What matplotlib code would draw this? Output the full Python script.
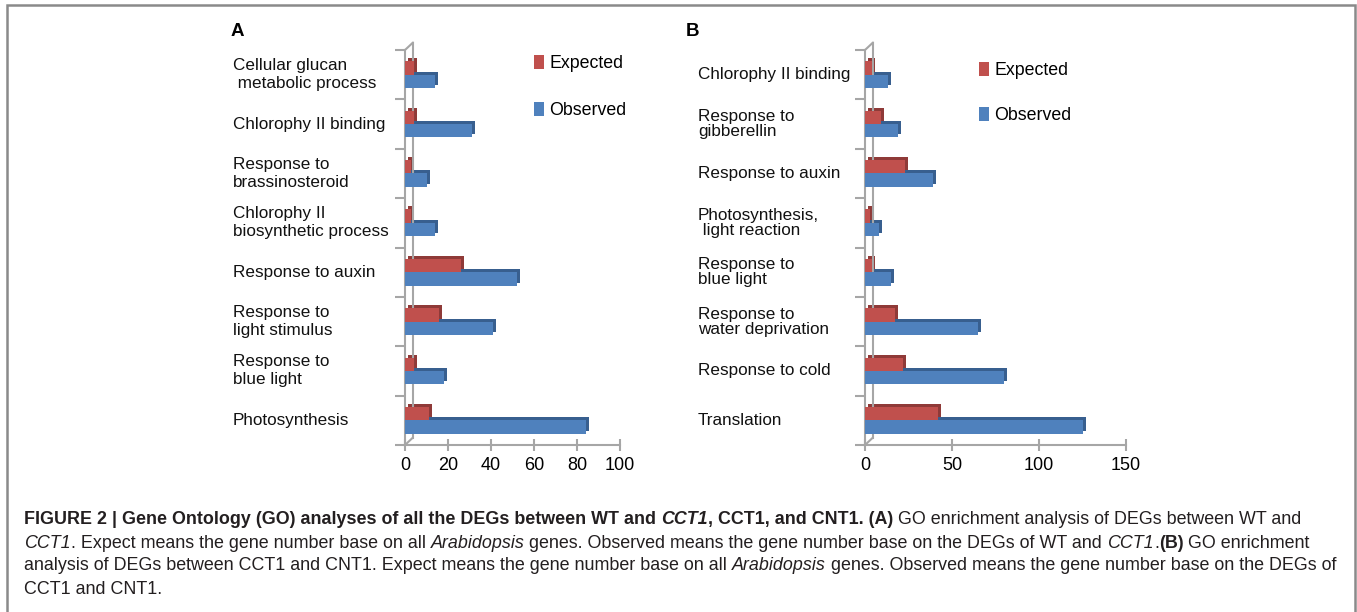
import numpy as np
import matplotlib
matplotlib.use("Agg")
import matplotlib.pyplot as plt
from matplotlib.transforms import ScaledTranslation, blended_transform_factory
from matplotlib.patches import Rectangle
from matplotlib.lines import Line2D
from matplotlib import font_manager

plt.rcParams['font.family'] = ['Liberation Sans', 'DejaVu Sans']

# panel A (bottom to top)
cats_a = ["Photosynthesis", "Response to\nblue light", "Response to\nlight stimulus",
          "Response to auxin", "Chlorophy II\nbiosynthetic process",
          "Response to\nbrassinosteroid", "Chlorophy II binding",
          "Cellular glucan\n metabolic process"]
expected_a = [11, 4, 16, 26, 3, 3, 4, 4]
observed_a = [84, 18, 41, 52, 14, 10, 31, 14]
xticks_a = [0, 20, 40, 60, 80, 100]

# panel B (bottom to top)
cats_b = ["Translation", "Response to cold", "Response to\nwater deprivation",
          "Response to\nblue light", "Photosynthesis,\n light reaction",
          "Response to auxin", "Response to\ngibberellin", "Chlorophy II binding"]
expected_b = [42, 22, 17, 4, 3, 23, 9, 4]
observed_b = [125, 80, 65, 15, 8, 39, 19, 13]
xticks_b = [0, 50, 100, 150]

RED, RED_D = '#c0504d', '#8f3a38'
BLUE, BLUE_D = '#4f81bd', '#385f8f'
GRAY = '#a6a6a6'

W, H = 1357, 612
fig = plt.figure(figsize=(W / 100, H / 100), dpi=100)


def px(x, y):
    return x / W, 1 - y / H


def panel(left, width, cats, expected, observed, xticks, label_x, linesp, letter, letter_x, leg_xy, leg_sp):
    ax = fig.add_axes([left / W, 1 - 445 / H, width / W, 395 / H])
    ax.patch.set_alpha(0)
    y = np.arange(len(cats))
    h = 0.27
    depth = ScaledTranslation(0.03, 0.03, fig.dpi_scale_trans)
    for vals, off, face, side, name in [(expected, h / 2, RED, RED_D, 'Expected'),
                                        (observed, -h / 2, BLUE, BLUE_D, 'Observed')]:
        back = ax.barh(y + off, vals, height=h, color=side, zorder=2)
        for p in back:
            p.set_transform(ax.transData + depth)
        ax.barh(y + off, vals, height=h, color=face, zorder=3, label=name)

    ax.set_xlim(xticks[0], xticks[-1])
    ax.set_ylim(-0.5, len(cats) - 0.5)
    ax.set_xticks(xticks)
    ax.set_yticks(np.arange(-0.5, len(cats)))
    ax.set_yticklabels([])
    for s in ['top', 'right']:
        ax.spines[s].set_visible(False)
    for s in ['left', 'bottom']:
        ax.spines[s].set_color(GRAY)
        ax.spines[s].set_linewidth(1.5)
    ax.tick_params(axis='y', length=7, width=1.5, color=GRAY)
    ax.tick_params(axis='x', direction='inout', length=9, width=1.5, color=GRAY,
                   labelsize=13, pad=4)

    # 3d back wall
    wall = ax.transAxes + ScaledTranslation(0.08, 0.075, fig.dpi_scale_trans)
    ax.add_line(Line2D([0, 0], [0, 1], transform=wall, color=GRAY, lw=1.5, clip_on=False))
    for yy in [0, 1]:
        ax.annotate('', xy=(0, yy), xycoords='axes fraction', xytext=(8, 7.5),
                    textcoords='offset pixels',
                    arrowprops=dict(arrowstyle='-', color=GRAY, lw=1.5, shrinkA=0, shrinkB=0))

    tr = blended_transform_factory(fig.transFigure, ax.transData)
    for yi, c in zip(y, cats):
        fig.text(label_x / W, yi, c, transform=tr, ha='left', va='center',
                 fontsize=12.3, linespacing=linesp, color='#111111')

    fig.text(*px(letter_x, 32), letter, fontsize=13.5, fontweight='bold', va='center')
    ax.legend(loc='upper left', bbox_to_anchor=px(*leg_xy), bbox_transform=fig.transFigure,
              frameon=False, fontsize=12.8, handlelength=0.55, handleheight=0.8,
              handletextpad=0.3, labelspacing=leg_sp, borderpad=0, borderaxespad=0)
    return ax


panel(405, 215, cats_a, expected_a, observed_a, xticks_a, 233, 1.25, 'A', 231, (534, 55), 1.7)
panel(865, 261, cats_b, expected_b, observed_b, xticks_b, 698, 1.0, 'B', 686, (979, 62), 1.6)

# frame
fig.patches.append(Rectangle((7 / W, -0.1), (1355 - 7) / W, 1.1 - 5 / H, fill=False,
                             edgecolor='#8a8a8a', lw=1.8, transform=fig.transFigure,
                             clip_on=False))

# caption
names = {f.name for f in font_manager.fontManager.ttflist}
cap_family = 'Liberation Sans Narrow' if 'Liberation Sans Narrow' in names else 'Liberation Sans'

caption = [
    [("FIGURE 2 | Gene Ontology (GO) analyses of all the DEGs between WT and ", 'bold', 'normal'),
     ("CCT1", 'bold', 'italic'),
     (", CCT1, and CNT1. (A)", 'bold', 'normal'),
     (" GO enrichment analysis of DEGs between WT and", 'normal', 'normal')],
    [("CCT1", 'normal', 'italic'),
     (". Expect means the gene number base on all ", 'normal', 'normal'),
     ("Arabidopsis", 'normal', 'italic'),
     (" genes. Observed means the gene number base on the DEGs of WT and ", 'normal', 'normal'),
     ("CCT1", 'normal', 'italic'),
     (".", 'normal', 'normal'),
     ("(B)", 'bold', 'normal'),
     (" GO enrichment", 'normal', 'normal')],
    [("analysis of DEGs between CCT1 and CNT1. Expect means the gene number base on all ", 'normal', 'normal'),
     ("Arabidopsis", 'normal', 'italic'),
     (" genes. Observed means the gene number base on the DEGs of", 'normal', 'normal')],
    [("CCT1 and CNT1.", 'normal', 'normal')],
]

renderer = fig.canvas.get_renderer()


def write_line(runs, y, size, draw=True):
    x = 24
    for s, w, st in runs:
        t = fig.text(x / W, 1 - y / H, s, fontsize=size, fontweight=w, fontstyle=st,
                     family=cap_family, va='center', ha='left', color='#231f20')
        x = t.get_window_extent(renderer).x1
        if not draw:
            t.remove()
    return x - 24


probe = write_line(caption[2], 566, 10, draw=False)
cap_size = 10 * 1312 / probe
for runs, yy in zip(caption, [520, 543, 566, 589]):
    write_line(runs, yy, cap_size)

fig.savefig('out.png', dpi=100)
